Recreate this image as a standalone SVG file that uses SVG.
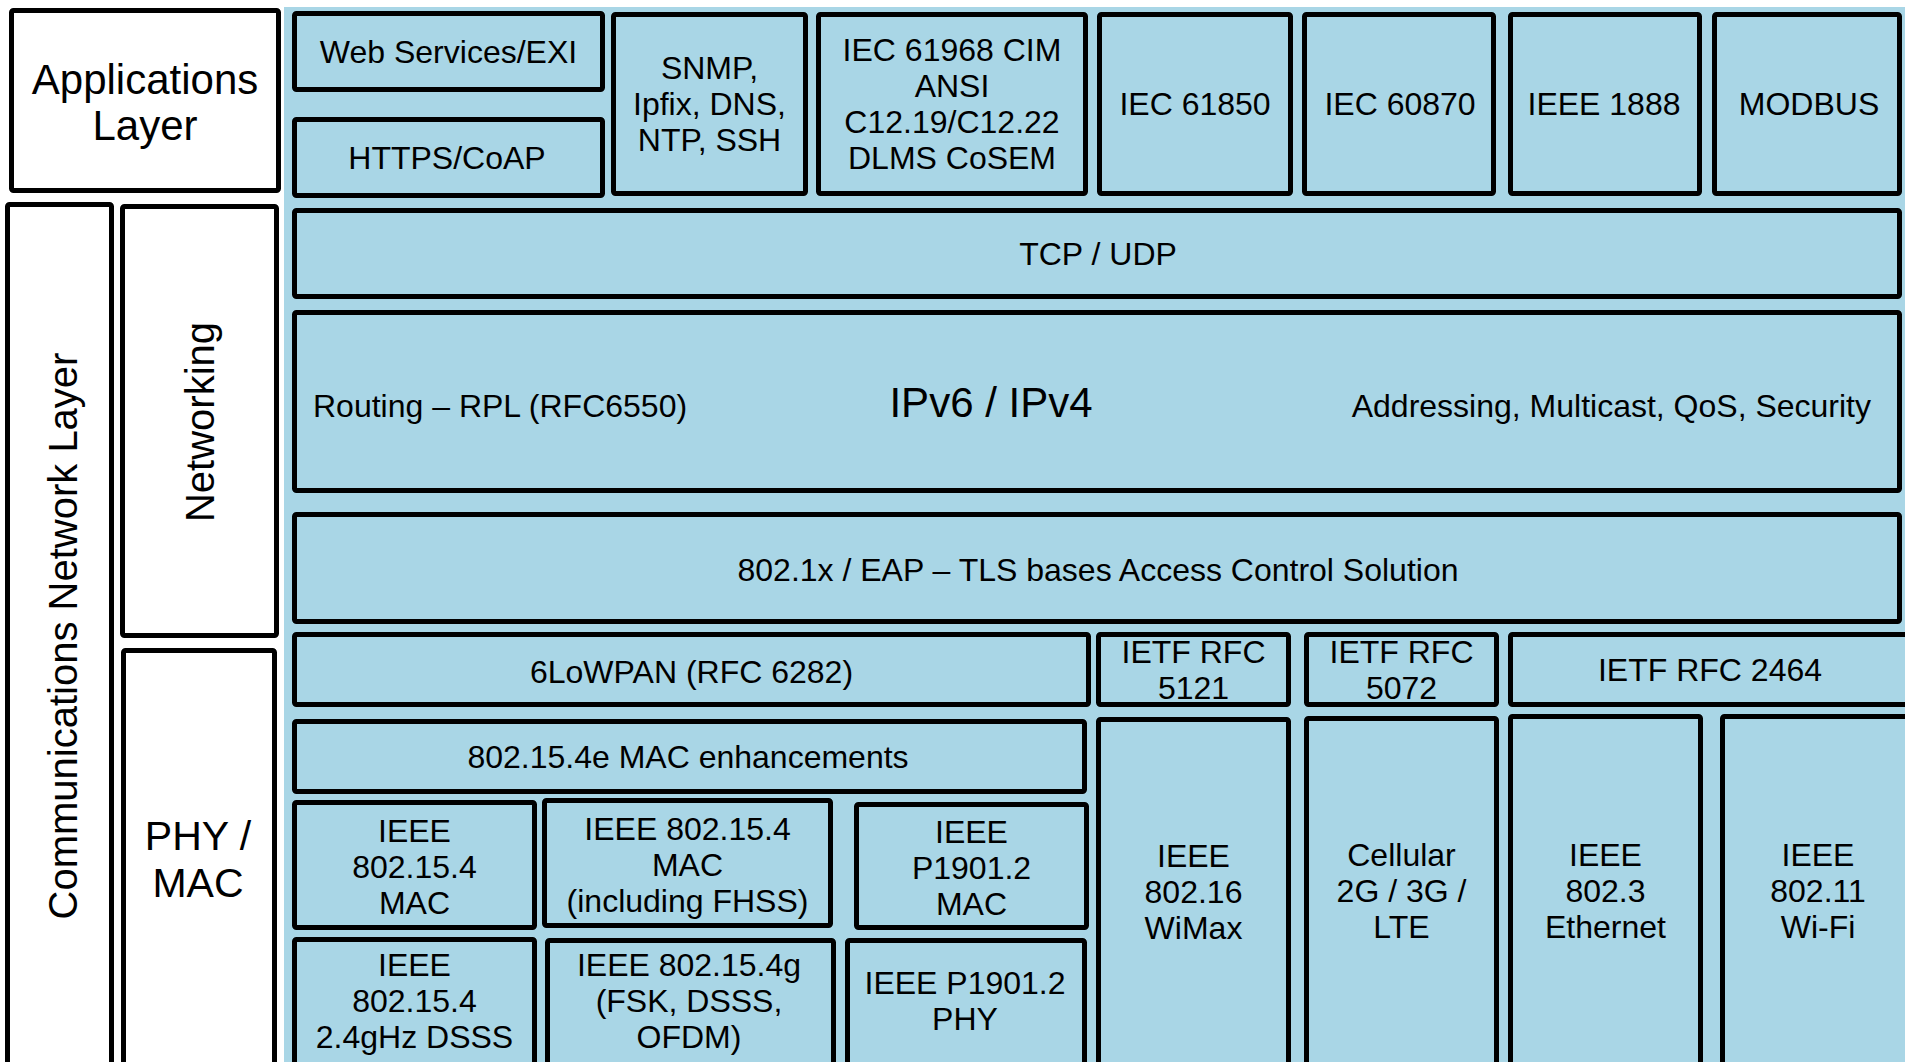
<svg xmlns="http://www.w3.org/2000/svg" width="1905" height="1062" viewBox="0 0 1905 1062">
<style>
.b{fill:#A9D6E6;stroke:#000;stroke-width:5;stroke-linejoin:round}
.w{fill:#fff;stroke:#000;stroke-width:5;stroke-linejoin:round}
text{font-family:"Liberation Sans",Arial,sans-serif;fill:#000;text-anchor:middle}
.t{font-size:32px}
.L{font-size:41px}
</style>
<rect width="1905" height="1062" fill="#fff"/>
<rect id="bg" x="284" y="7" width="1621" height="1055" fill="#A9D6E6"/>

<g id="app-layer"><rect class="w" x="11.5" y="10.5" width="267" height="180" rx="2"/>
<text class="L" x="145" y="94" style="font-size:42px">Applications</text><text class="L" x="145" y="140" style="font-size:42px">Layer</text></g>

<g id="comm-layer"><rect class="w" x="7.5" y="204.5" width="104" height="900" rx="2"/>
<text class="L" transform="translate(77,636) rotate(-90)" style="font-size:40px">Communications Network Layer</text></g>

<g id="networking"><rect class="w" x="122.5" y="206.5" width="154" height="429" rx="2"/>
<text class="L" transform="translate(214,422) rotate(-90)" style="font-size:40px">Networking</text></g>

<g id="phymac"><rect class="w" x="123.5" y="650.5" width="151" height="450" rx="2"/>
<text class="L" x="198" y="850">PHY /</text><text class="L" x="198" y="897">MAC</text></g>

<g id="web"><rect class="b" x="294.5" y="13.5" width="308" height="76" rx="2"/><text class="t" x="448.5" y="63">Web Services/EXI</text></g>
<g id="https"><rect class="b" x="294.5" y="119.5" width="308" height="76" rx="2"/><text class="t" x="447" y="169">HTTPS/CoAP</text></g>
<g id="snmp"><rect class="b" x="613.5" y="14.5" width="192" height="179" rx="2"/>
<text class="t" x="709.5" y="79">SNMP,</text><text class="t" x="709.5" y="115">Ipfix, DNS,</text><text class="t" x="709.5" y="151">NTP, SSH</text></g>
<g id="iec61968"><rect class="b" x="818.5" y="14.5" width="267" height="179" rx="2"/>
<text class="t" x="952" y="61">IEC 61968 CIM</text><text class="t" x="952" y="97">ANSI</text><text class="t" x="952" y="133">C12.19/C12.22</text><text class="t" x="952" y="169">DLMS CoSEM</text></g>
<g id="iec61850"><rect class="b" x="1099.5" y="14.5" width="191" height="179" rx="2"/><text class="t" x="1195" y="115">IEC 61850</text></g>
<g id="iec60870"><rect class="b" x="1304.5" y="14.5" width="189" height="179" rx="2"/><text class="t" x="1400" y="115">IEC 60870</text></g>
<g id="ieee1888"><rect class="b" x="1510.5" y="14.5" width="189" height="179" rx="2"/><text class="t" x="1604" y="115">IEEE 1888</text></g>
<g id="modbus"><rect class="b" x="1714.5" y="14.5" width="185" height="179" rx="2"/><text class="t" x="1809" y="115">MODBUS</text></g>

<g id="tcp"><rect class="b" x="294.5" y="210.5" width="1605" height="86" rx="2"/><text class="t" x="1098" y="265">TCP / UDP</text></g>
<g id="ip"><rect class="b" x="294.5" y="312.5" width="1605" height="178" rx="2"/>
<text class="t" x="313" y="417" style="text-anchor:start">Routing – RPL (RFC6550)</text>
<text x="991" y="417" style="font-size:42px">IPv6 / IPv4</text>
<text class="t" x="1871" y="417" style="text-anchor:end">Addressing, Multicast, QoS, Security</text></g>
<g id="eap"><rect class="b" x="294.5" y="514.5" width="1605" height="107" rx="2"/><text class="t" x="1098" y="581">802.1x / EAP – TLS bases Access Control Solution</text></g>

<g id="sixlowpan"><rect class="b" x="294.5" y="634.5" width="794" height="70" rx="2"/><text class="t" x="691.5" y="683">6LoWPAN (RFC 6282)</text></g>
<g id="rfc5121"><rect class="b" x="1098.5" y="634.5" width="190" height="70" rx="2"/><text class="t" x="1193.5" y="663">IETF RFC</text><text class="t" x="1193.5" y="699">5121</text></g>
<g id="rfc5072"><rect class="b" x="1306.5" y="634.5" width="190" height="70" rx="2"/><text class="t" x="1401.5" y="663">IETF RFC</text><text class="t" x="1401.5" y="699">5072</text></g>
<g id="rfc2464"><rect class="b" x="1510.5" y="634.5" width="400" height="70" rx="2"/><text class="t" x="1710" y="681">IETF RFC 2464</text></g>

<g id="mac154e"><rect class="b" x="294.5" y="721.5" width="790" height="70" rx="2"/><text class="t" x="688" y="768">802.15.4e MAC enhancements</text></g>
<g id="wimax"><rect class="b" x="1098.5" y="719.5" width="190" height="400" rx="2"/>
<text class="t" x="1193.5" y="867">IEEE</text><text class="t" x="1193.5" y="903">802.16</text><text class="t" x="1193.5" y="939">WiMax</text></g>
<g id="cellular"><rect class="b" x="1306.5" y="718.5" width="190" height="400" rx="2"/>
<text class="t" x="1401.5" y="866">Cellular</text><text class="t" x="1401.5" y="902">2G / 3G /</text><text class="t" x="1401.5" y="938">LTE</text></g>
<g id="ethernet"><rect class="b" x="1510.5" y="716.5" width="190" height="400" rx="2"/>
<text class="t" x="1605.5" y="866">IEEE</text><text class="t" x="1605.5" y="902">802.3</text><text class="t" x="1605.5" y="938">Ethernet</text></g>
<g id="wifi"><rect class="b" x="1722.5" y="716.5" width="400" height="400" rx="2"/>
<text class="t" x="1818" y="866">IEEE</text><text class="t" x="1818" y="902">802.11</text><text class="t" x="1818" y="938">Wi-Fi</text></g>

<g id="mac154"><rect class="b" x="294.5" y="802.5" width="240" height="125" rx="2"/>
<text class="t" x="414.5" y="842">IEEE</text><text class="t" x="414.5" y="878">802.15.4</text><text class="t" x="414.5" y="914">MAC</text></g>
<g id="mac154fhss"><rect class="b" x="544.5" y="800.5" width="286" height="125" rx="2"/>
<text class="t" x="687.5" y="840">IEEE 802.15.4</text><text class="t" x="687.5" y="876">MAC</text><text class="t" x="687.5" y="912">(including FHSS)</text></g>
<g id="p1901mac"><rect class="b" x="856.5" y="804.5" width="230" height="123" rx="2"/>
<text class="t" x="971.5" y="843">IEEE</text><text class="t" x="971.5" y="879">P1901.2</text><text class="t" x="971.5" y="915">MAC</text></g>

<g id="phy154"><rect class="b" x="294.5" y="939.5" width="240" height="200" rx="2"/>
<text class="t" x="414.5" y="976">IEEE</text><text class="t" x="414.5" y="1012">802.15.4</text><text class="t" x="414.5" y="1048">2.4gHz DSSS</text></g>
<g id="phy154g"><rect class="b" x="547.5" y="940.5" width="286" height="200" rx="2"/>
<text class="t" x="689" y="976">IEEE 802.15.4g</text><text class="t" x="689" y="1012">(FSK, DSSS,</text><text class="t" x="689" y="1048">OFDM)</text></g>
<g id="p1901phy"><rect class="b" x="847.5" y="940.5" width="237" height="200" rx="2"/>
<text class="t" x="965" y="994">IEEE P1901.2</text><text class="t" x="965" y="1030">PHY</text></g>

<g id="connectors"></g>
</svg>
